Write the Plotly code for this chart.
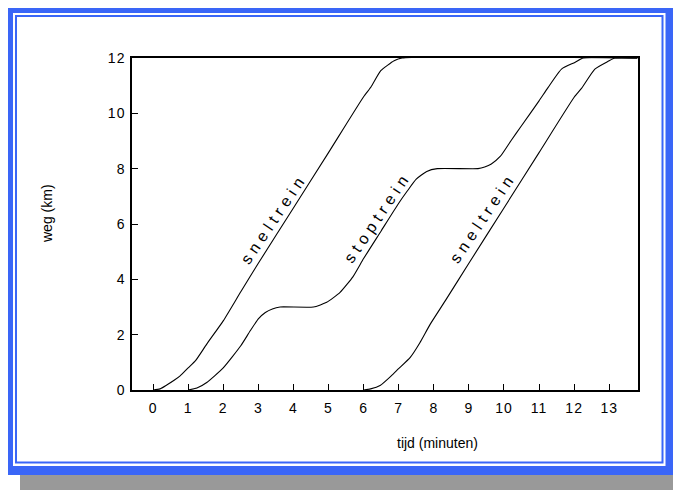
import plotly.graph_objects as go

# ---- data ----
snel1_t = [0.0, 0.2, 0.39, 0.6, 0.78, 1.0, 1.21, 1.53, 2.0, 2.5, 3.0, 4.0, 5.0, 6.0, 6.21, 6.49, 6.87, 7.1, 13.8]
snel1_s = [0.0, 0.04, 0.18, 0.35, 0.52, 0.8, 1.06, 1.66, 2.5, 3.55, 4.58, 6.58, 8.58, 10.6, 10.95, 11.54, 11.9, 12.0, 12.0]

stop_t = [1.0, 1.25, 1.53, 2.0, 2.5, 2.77, 3.0, 3.2, 3.4, 3.62, 4.57, 4.95, 5.33, 5.7, 6.0, 6.5, 7.0, 7.25,
          7.5, 7.8, 8.1, 9.26, 9.45, 9.64, 9.9, 10.2, 10.5, 11.0, 11.26, 11.64, 12.02, 12.26, 13.8]
stop_s = [0.0, 0.07, 0.27, 0.8, 1.6, 2.14, 2.57, 2.8, 2.93, 3.0, 3.0, 3.17, 3.53, 4.1, 4.75, 5.75, 6.75, 7.2,
          7.62, 7.9, 8.0, 8.0, 8.06, 8.17, 8.45, 9.01, 9.55, 10.45, 10.94, 11.6, 11.84, 12.0, 12.0]

snel2_t = [6.0, 6.2, 6.47, 6.78, 6.99, 7.33, 7.6, 7.9, 8.33, 9.0, 10.0, 11.0, 12.0, 12.21, 12.59, 12.97, 13.16, 13.8]
snel2_s = [0.0, 0.04, 0.16, 0.5, 0.76, 1.18, 1.7, 2.38, 3.23, 4.58, 6.58, 8.58, 10.58, 10.9, 11.6, 11.88, 12.0, 12.0]

x_ticks = list(range(0, 14))
y_ticks = [0, 2, 4, 6, 8, 10, 12]

labels = ["sneltrein", "stoptrein", "sneltrein"]
label_px = [(273, 219), (377, 217), (482, 218)]  # label centres in screen pixels

# ---- layout geometry (page has an 8px body margin) ----
OFF = 8
W, H = 681 - OFF, 490 - OFF
PL, PR, PT, PB = 132, 638, 58, 390          # plot area in screen pixels
L, T = PL - OFF, PT - OFF
R, B = W - (PR - OFF), H - (PB - OFF)
PW, PH = PR - PL, PB - PT


def px(x):
    return (x - PL) / PW


def py(y):
    return (PB - y) / PH


FONT = "Liberation Sans, Arial, sans-serif"
BLUE = "#3a66f7"


def spaced(s, sp):
    return '<span style="letter-spacing:%spx">%s</span>' % (sp, s)


fig = go.Figure()
for t, s in [(snel1_t, snel1_s), (stop_t, stop_s), (snel2_t, snel2_s)]:
    fig.add_trace(go.Scatter(x=t, y=s, mode="lines",
                             line=dict(color="black", width=1.1, shape="spline", smoothing=0.5),
                             showlegend=False, hoverinfo="skip"))

shapes = []


def rect(x0, y0, x1, y1, color):
    shapes.append(dict(type="rect", xref="paper", yref="paper", layer="below",
                       x0=px(x0), x1=px(x1), y0=py(y1), y1=py(y0),
                       fillcolor=color, line=dict(width=0)))


rect(20, 20, 681, 490, "#999999")
rect(5, 6, 673, 475, BLUE)
rect(13, 13, 665.5, 466, "white")
rect(15, 15, 663.5, 463.5, BLUE)
rect(17, 17, 661.5, 461.5, "white")

annotations = []
for txt, (cx, cy) in zip(labels, label_px):
    annotations.append(dict(xref="paper", yref="paper", x=px(cx), y=py(cy), showarrow=False,
                            text=spaced(txt, 5), textangle=-56,
                            font=dict(family=FONT, size=16, color="black"),
                            xanchor="center", yanchor="middle"))
annotations.append(dict(xref="paper", yref="paper", x=px(47), y=py(214), showarrow=False,
                        text="weg (km)", textangle=-90, font=dict(family=FONT, size=14, color="black"),
                        xanchor="center", yanchor="middle"))
annotations.append(dict(xref="paper", yref="paper", x=px(437), y=py(443), showarrow=False,
                        text="tijd (minuten)", font=dict(family=FONT, size=14, color="black"),
                        xanchor="center", yanchor="middle"))

fig.update_layout(
    width=W, height=H, margin=dict(l=L, r=R, t=T, b=B, pad=0),
    paper_bgcolor="white", plot_bgcolor="rgba(0,0,0,0)",
    shapes=shapes, annotations=annotations,
    font=dict(family=FONT, size=14, color="black"),
    xaxis=dict(range=[-0.6, 13.82], tickvals=x_ticks, ticktext=[spaced(str(v), 1) for v in x_ticks],
               ticks="inside", ticklen=6, tickwidth=1, tickcolor="black",
               showline=True, linecolor="black", linewidth=1.5, mirror=True,
               showgrid=False, zeroline=False, ticklabelstandoff=4,
               tickfont=dict(family=FONT, size=14, color="black")),
    yaxis=dict(range=[0, 12], tickvals=y_ticks, ticktext=[spaced(str(v), 1) for v in y_ticks],
               ticks="inside", ticklen=6, tickwidth=1, tickcolor="black",
               showline=True, linecolor="black", linewidth=1.5, mirror=True,
               showgrid=False, zeroline=False, ticklabelstandoff=2,
               tickfont=dict(family=FONT, size=14, color="black")),
)

fig.write_html("out.html")
